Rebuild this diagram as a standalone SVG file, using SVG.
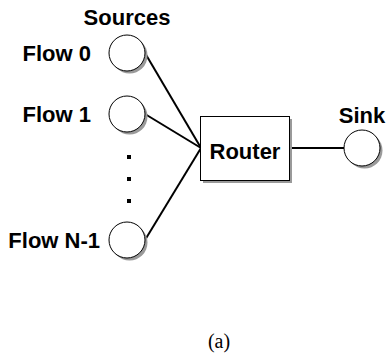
<svg xmlns="http://www.w3.org/2000/svg" width="388" height="356" viewBox="0 0 388 356">
  <style>
    .lbl { font-family: "Liberation Sans", Arial, sans-serif; font-weight: bold; font-size: 22px; fill: #000; }
    .node { fill: #fff; stroke: #000; stroke-width: 1; }
    .shadow { fill: #9a9a9a; stroke: none; }
    .wire { stroke: #000; stroke-width: 2; fill: none; }
    .cap { font-family: "Liberation Serif", "Times New Roman", serif; font-size: 20px; fill: #000; }
  </style>
  <rect width="388" height="356" fill="#fff"/>

  <!-- connectors -->
  <g id="connectors">
    <line class="wire" x1="145" y1="53" x2="201" y2="148"/>
    <line class="wire" x1="145" y1="114" x2="201" y2="148"/>
    <line class="wire" x1="145" y1="240" x2="201" y2="148"/>
    <line class="wire" x1="289" y1="148" x2="344" y2="148"/>
  </g>

  <text class="lbl" x="127" y="25" text-anchor="middle">Sources</text>

  <g id="flow0">
    <circle class="shadow" cx="129.5" cy="55.5" r="18"/>
    <circle class="node" cx="127" cy="53" r="18"/>
    <text class="lbl" x="91" y="61" text-anchor="end">Flow 0</text>
  </g>

  <g id="flow1">
    <circle class="shadow" cx="129.5" cy="116.5" r="18"/>
    <circle class="node" cx="127" cy="114" r="18"/>
    <text class="lbl" x="91" y="122" text-anchor="end">Flow 1</text>
  </g>

  <!-- ellipsis between flows -->
  <g id="ellipsis" fill="#000">
    <rect x="127" y="155" width="4" height="4"/>
    <rect x="127" y="177" width="4" height="4"/>
    <rect x="127" y="199" width="4" height="4"/>
  </g>

  <g id="flowN1">
    <circle class="shadow" cx="129.5" cy="242.5" r="18"/>
    <circle class="node" cx="127" cy="240" r="18"/>
    <text class="lbl" x="100" y="248" text-anchor="end">Flow N-1</text>
  </g>

  <g id="router">
    <rect class="shadow" x="203" y="119" width="89" height="64"/>
    <rect class="node" x="200.5" y="116.5" width="89" height="64"/>
    <text class="lbl" x="245" y="159" text-anchor="middle">Router</text>
  </g>

  <g id="sink">
    <circle class="shadow" cx="364.5" cy="150.5" r="18"/>
    <circle class="node" cx="362" cy="148" r="18"/>
    <text class="lbl" x="362" y="123" text-anchor="middle">Sink</text>
  </g>

  <text class="cap" x="219" y="348" text-anchor="middle">(a)</text>
</svg>
